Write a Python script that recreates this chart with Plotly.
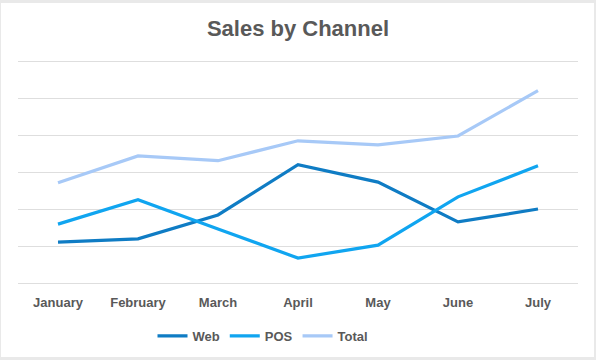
import plotly.graph_objects as go

months = ["January", "February", "March", "April", "May", "June", "July"]
web = [11.1, 12.0, 18.5, 32.1, 27.4, 16.6, 20.1]
pos = [16.0, 22.6, 14.7, 6.8, 10.3, 23.4, 31.8]
total = [27.2, 34.5, 33.2, 38.6, 37.5, 39.9, 52.2]

series = [("Web", web, "#0f7cc4"), ("POS", pos, "#10a5f0"), ("Total", total, "#a7c9f7")]

fig = go.Figure()
for name, vals, color in series:
    fig.add_trace(go.Scatter(x=months, y=vals, name="<b>" + name + "</b>", mode="lines",
                             line=dict(color=color, width=3.2)))

font = "Liberation Sans, Arial, sans-serif"
W, H = 596, 360
L, R, T, B = 18, 18, 60, 75
pw, ph = W - L - R, H - T - B
bottom_px = H - B

fig.add_shape(type="rect", xref="paper", yref="paper",
              x0=(1 - L) / pw, x1=(594 - L) / pw,
              y0=(bottom_px - 357) / ph, y1=(bottom_px - 3) / ph,
              fillcolor="white", line=dict(width=0), layer="below")

fig.update_layout(
    width=W, height=H,
    margin=dict(l=L, r=R, t=T, b=B, autoexpand=False),
    paper_bgcolor="#e9e9e9", plot_bgcolor="white",
    title=dict(text="<b>Sales by Channel</b>", x=0.5, xanchor="center", y=1 - 28 / H, yanchor="middle",
               font=dict(family=font, size=22, color="#595959")),
    xaxis=dict(range=[-0.5, 6.5], showgrid=False, showline=False, zeroline=False, ticks="",
               automargin=False, ticklabelstandoff=8,
               tickfont=dict(family=font, size=13, color="#595959"),
               tickprefix="<b>", ticksuffix="</b>"),
    yaxis=dict(range=[-0.5, 60.5], tick0=0, dtick=10, showgrid=True, gridcolor="#dedede", gridwidth=1.2,
               zeroline=False, showticklabels=False, showline=False, automargin=False),
    showlegend=True,
    hovermode=False,
    legend=dict(orientation="h", x=0.4375, xanchor="center", yref="container", y=(H - 336) / H,
                yanchor="middle",
                font=dict(family=font, size=13, color="#595959"), itemwidth=30,
                bgcolor="rgba(0,0,0,0)"),
)

fig.write_html("out.html", config={"displayModeBar": False},
               post_script="document.body.style.margin='0';")
